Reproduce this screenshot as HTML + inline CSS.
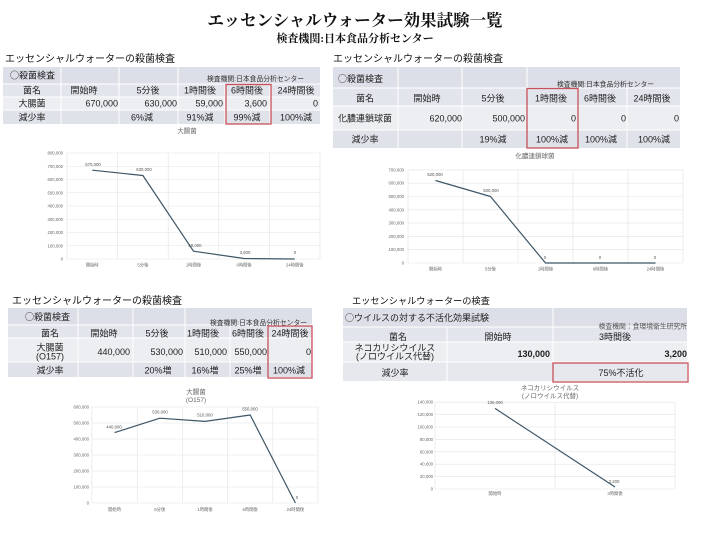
<!DOCTYPE html>
<html><head><meta charset="utf-8"><style>
html,body{margin:0;padding:0;background:#fff;}
svg{display:block;font-family:"Liberation Sans","Noto Sans CJK JP",sans-serif;}
.t{fill:#1e1e1e;font-size:9px;}
.c{text-anchor:middle}
.e{text-anchor:end}
.sm{font-size:6.8px;fill:#333}
.ax{font-size:4.3px;fill:#666}
.dl{font-size:4.3px;fill:#555;text-anchor:middle}
.ct{font-size:6.5px;fill:#666;text-anchor:middle}
.g{stroke:#e3e3e3;stroke-width:0.6;fill:none}
.ln{stroke:#3e5565;stroke-width:1.2;fill:none;stroke-linejoin:round}
.rb{fill:none;stroke:#c8505a;stroke-width:1.3}
.wl{stroke:#fff;stroke-width:1}
.cj{font-family:"Noto Sans CJK JP",sans-serif}
</style></head><body>
<svg width="710" height="543" viewBox="0 0 710 543" xmlns="http://www.w3.org/2000/svg">
<rect width="710" height="543" fill="#fff"/>
<!-- main titles -->
<text x="355" y="26" text-anchor="middle" font-family="'Liberation Serif','Noto Serif CJK JP',serif" font-weight="bold" font-size="16.5" fill="#111">エッセンシャルウォーター効果試験一覧</text>
<text x="355" y="42" text-anchor="middle" font-family="'Liberation Serif','Noto Serif CJK JP',serif" font-weight="bold" font-size="11" fill="#111">検査機関:日本食品分析センター</text>

<!-- section titles -->
<text x="5" y="62" font-size="10" fill="#111">エッセンシャルウォーターの殺菌検査</text>
<text x="333" y="62" font-size="10" fill="#111">エッセンシャルウォーターの殺菌検査</text>
<text x="12" y="304" font-size="10" fill="#111">エッセンシャルウォーターの殺菌検査</text>
<text x="352" y="304" font-size="9.2" fill="#111">エッセンシャルウォーターの検査</text>

<!-- ================= TOP-LEFT TABLE ================= -->
<rect x="3" y="67" width="317" height="17" fill="#dcdfe7"/>
<rect x="3" y="84" width="317" height="13" fill="#e3e5ec"/>
<rect x="3" y="97" width="317" height="13" fill="#eceef2"/>
<rect x="3" y="110" width="317" height="14" fill="#dfe2e9"/>
<line class="wl" x1="3" y1="84" x2="320" y2="84"/>
<line class="wl" x1="3" y1="97" x2="320" y2="97"/>
<line class="wl" x1="3" y1="110" x2="320" y2="110"/>
<line class="wl" x1="61" y1="67" x2="61" y2="124"/>
<line class="wl" x1="119" y1="67" x2="119" y2="124"/>
<line class="wl" x1="178" y1="67" x2="178" y2="124"/>
<line class="wl" x1="225" y1="84" x2="225" y2="124"/>
<line class="wl" x1="270" y1="84" x2="270" y2="124"/>
<text class="t" x="10" y="78.5" font-size="8.5"><tspan class="cj">○</tspan>殺菌検査</text>
<text class="t sm" x="207" y="81">検査機関:日本食品分析センター</text>
<text class="t c" x="32" y="93.5">菌名</text>
<text class="t c" x="84" y="93.5">開始時</text>
<text class="t c" x="148" y="93.5">5分後</text>
<text class="t c" x="200" y="93.5">1時間後</text>
<text class="t c" x="247" y="93.5">6時間後</text>
<text class="t c" x="296" y="93.5">24時間後</text>
<text class="t c" x="32" y="106.5">大腸菌</text>
<text class="t e" x="118" y="106.5" font-size="8.5">670,000</text>
<text class="t e" x="177" y="106.5" font-size="8.5">630,000</text>
<text class="t e" x="223" y="106.5" font-size="8.5">59,000</text>
<text class="t e" x="267" y="106.5" font-size="8.5">3,600</text>
<text class="t e" x="318" y="106.5" font-size="8.5">0</text>
<text class="t c" x="32" y="120.5">減少率</text>
<text class="t c" x="142" y="120.5">6%減</text>
<text class="t c" x="200" y="120.5">91%減</text>
<text class="t c" x="247" y="120.5">99%減</text>
<text class="t c" x="296" y="120.5">100%減</text>
<rect class="rb" x="226" y="84.5" width="45" height="39.5"/>

<!-- ================= TOP-RIGHT TABLE ================= -->
<rect x="333" y="67" width="347" height="21" fill="#dcdfe7"/>
<rect x="333" y="88" width="347" height="18" fill="#e3e5ec"/>
<rect x="333" y="106" width="347" height="24" fill="#eceef2"/>
<rect x="333" y="130" width="347" height="18" fill="#dfe2e9"/>
<line class="wl" x1="333" y1="88" x2="680" y2="88"/>
<line class="wl" x1="333" y1="106" x2="680" y2="106"/>
<line class="wl" x1="333" y1="130" x2="680" y2="130"/>
<line class="wl" x1="398" y1="67" x2="398" y2="148"/>
<line class="wl" x1="462" y1="67" x2="462" y2="148"/>
<line class="wl" x1="527" y1="67" x2="527" y2="148"/>
<line class="wl" x1="578" y1="88" x2="578" y2="148"/>
<line class="wl" x1="627" y1="88" x2="627" y2="148"/>
<text class="t" x="338" y="82" font-size="9"><tspan class="cj">○</tspan>殺菌検査</text>
<text class="t sm" x="557" y="86.5">検査機関:日本食品分析センター</text>
<text class="t c" x="365" y="101.5" font-size="9.5">菌名</text>
<text class="t c" x="427" y="101.5" font-size="9.5">開始時</text>
<text class="t c" x="493" y="101.5" font-size="9.5">5分後</text>
<text class="t c" x="551" y="101.5" font-size="9.5">1時間後</text>
<text class="t c" x="600" y="101.5" font-size="9.5">6時間後</text>
<text class="t c" x="652" y="101.5" font-size="9.5">24時間後</text>
<text class="t c" x="365" y="121.5" font-size="9.5">化膿連鎖球菌</text>
<text class="t e" x="462" y="121.5">620,000</text>
<text class="t e" x="525" y="121.5">500,000</text>
<text class="t e" x="576" y="121.5">0</text>
<text class="t e" x="626" y="121.5">0</text>
<text class="t e" x="679" y="121.5">0</text>
<text class="t c" x="365" y="142.5" font-size="9.5">減少率</text>
<text class="t c" x="493" y="142.5" font-size="9.5">19%減</text>
<text class="t c" x="552" y="142.5" font-size="9.5">100%減</text>
<text class="t c" x="601" y="142.5" font-size="9.5">100%減</text>
<text class="t c" x="654" y="142.5" font-size="9.5">100%減</text>
<rect class="rb" x="527" y="88.5" width="51" height="59.5"/>

<!-- ================= BOTTOM-LEFT TABLE ================= -->
<rect x="8" y="308" width="304" height="17" fill="#dcdfe7"/>
<rect x="8" y="325" width="304" height="13" fill="#e3e5ec"/>
<rect x="8" y="338" width="304" height="24" fill="#eceef2"/>
<rect x="8" y="362" width="304" height="15" fill="#dfe2e9"/>
<line class="wl" x1="8" y1="325" x2="312" y2="325"/>
<line class="wl" x1="8" y1="338" x2="312" y2="338"/>
<line class="wl" x1="8" y1="362" x2="312" y2="362"/>
<line class="wl" x1="78" y1="308" x2="78" y2="377"/>
<line class="wl" x1="133" y1="308" x2="133" y2="377"/>
<line class="wl" x1="185" y1="308" x2="185" y2="377"/>
<line class="wl" x1="230" y1="325" x2="230" y2="377"/>
<line class="wl" x1="268" y1="325" x2="268" y2="377"/>
<text class="t" x="25" y="320" font-size="8.5"><tspan class="cj">○</tspan>殺菌検査</text>
<text class="t sm" x="210" y="325">検査機関:日本食品分析センター</text>
<text class="t c" x="50" y="336.5">菌名</text>
<text class="t c" x="104" y="336.5">開始時</text>
<text class="t c" x="157" y="336.5">5分後</text>
<text class="t c" x="203" y="336.5">1時間後</text>
<text class="t c" x="248" y="336.5">6時間後</text>
<text class="t c" x="290" y="336.5">24時間後</text>
<text class="t c" x="50" y="350.5">大腸菌</text>
<text class="t c" x="50" y="359.5">(O157)</text>
<text class="t e" x="130" y="355" font-size="8.5">440,000</text>
<text class="t e" x="183" y="355" font-size="8.5">530,000</text>
<text class="t e" x="227" y="355" font-size="8.5">510,000</text>
<text class="t e" x="267" y="355" font-size="8.5">550,000</text>
<text class="t e" x="311" y="355" font-size="8.5">0</text>
<text class="t c" x="50" y="373.5">減少率</text>
<text class="t c" x="158" y="373.5">20%増</text>
<text class="t c" x="205" y="373.5">16%増</text>
<text class="t c" x="248" y="373.5">25%増</text>
<text class="t c" x="289" y="373.5">100%減</text>
<rect class="rb" x="268" y="326" width="44" height="52"/>

<!-- ================= BOTTOM-RIGHT TABLE ================= -->
<rect x="343" y="308" width="344" height="19" fill="#dcdfe7"/>
<rect x="343" y="327" width="344" height="15" fill="#e3e5ec"/>
<rect x="343" y="342" width="344" height="20" fill="#eceef2"/>
<rect x="343" y="362" width="344" height="19" fill="#e6e8ee"/>
<line class="wl" x1="343" y1="327" x2="687" y2="327"/>
<line class="wl" x1="343" y1="342" x2="687" y2="342"/>
<line class="wl" x1="343" y1="362" x2="687" y2="362"/>
<line class="wl" x1="447" y1="327" x2="447" y2="381"/>
<line class="wl" x1="553" y1="308" x2="553" y2="381"/>
<text class="t" x="345" y="321" font-size="7.5"><tspan class="cj">○</tspan>ウイルスの対する不活化効果試験</text>
<text class="e" x="687" y="328.5" font-size="6.8" fill="#555">検査機関：食環境衛生研究所</text>
<text class="t c" x="398" y="340">菌名</text>
<text class="t c" x="498" y="340">開始時</text>
<text class="t c" x="615" y="340">3時間後</text>
<text class="t c" x="395" y="351" font-size="8.5">ネコカリシウイルス</text>
<text class="t c" x="395" y="359.5" font-size="8.5">(ノロウイルス代替)</text>
<text class="t e" x="550" y="357" font-size="8.5" font-weight="bold">130,000</text>
<text class="t e" x="687" y="357" font-size="8.5" font-weight="bold">3,200</text>
<text class="t c" x="395" y="376">減少率</text>
<text class="t c" x="621" y="376">75%不活化</text>
<rect class="rb" x="553" y="363" width="135" height="19"/>

<!-- ================= TOP-LEFT CHART ================= -->
<text class="ct" x="187" y="133">大腸菌</text>
<g class="g">
<line x1="67" y1="259" x2="320" y2="259"/><line x1="67" y1="245.75" x2="320" y2="245.75"/>
<line x1="67" y1="232.5" x2="320" y2="232.5"/><line x1="67" y1="219.25" x2="320" y2="219.25"/>
<line x1="67" y1="206" x2="320" y2="206"/><line x1="67" y1="192.75" x2="320" y2="192.75"/>
<line x1="67" y1="179.5" x2="320" y2="179.5"/><line x1="67" y1="166.25" x2="320" y2="166.25"/>
<line x1="67" y1="153" x2="320" y2="153"/>
<line x1="67" y1="153" x2="67" y2="259"/><line x1="117.6" y1="153" x2="117.6" y2="259"/>
<line x1="168.2" y1="153" x2="168.2" y2="259"/><line x1="218.8" y1="153" x2="218.8" y2="259"/>
<line x1="269.4" y1="153" x2="269.4" y2="259"/><line x1="320" y1="153" x2="320" y2="259"/>
</g>
<g class="ax" text-anchor="end">
<text x="63" y="260.5">0</text><text x="63" y="247.3">100,000</text><text x="63" y="234">200,000</text>
<text x="63" y="220.8">300,000</text><text x="63" y="207.5">400,000</text><text x="63" y="194.3">500,000</text>
<text x="63" y="181">600,000</text><text x="63" y="167.8">700,000</text><text x="63" y="154.5">800,000</text>
</g>
<g class="ax" text-anchor="middle">
<text x="92.3" y="266.5">開始時</text><text x="142.9" y="266.5">5分後</text><text x="193.5" y="266.5">1時間後</text>
<text x="244.1" y="266.5">6時間後</text><text x="294.7" y="266.5">24時間後</text>
</g>
<polyline class="ln" points="92.3,170.2 142.9,175.5 193.5,251.2 244.1,258.5 294.7,259"/>
<text class="dl" x="93" y="166">670,000</text><text class="dl" x="144" y="171">630,000</text>
<text class="dl" x="195" y="247">59,000</text><text class="dl" x="245" y="254">3,600</text><text class="dl" x="295" y="254">0</text>

<!-- ================= TOP-RIGHT CHART ================= -->
<text class="ct" x="535" y="158">化膿連鎖球菌</text>
<g class="g">
<line x1="408" y1="263" x2="683" y2="263"/><line x1="408" y1="249.7" x2="683" y2="249.7"/>
<line x1="408" y1="236.4" x2="683" y2="236.4"/><line x1="408" y1="223.1" x2="683" y2="223.1"/>
<line x1="408" y1="209.8" x2="683" y2="209.8"/><line x1="408" y1="196.5" x2="683" y2="196.5"/>
<line x1="408" y1="183.2" x2="683" y2="183.2"/><line x1="408" y1="169.9" x2="683" y2="169.9"/>
<line x1="408" y1="169.9" x2="408" y2="263"/><line x1="463" y1="169.9" x2="463" y2="263"/>
<line x1="518" y1="169.9" x2="518" y2="263"/><line x1="573" y1="169.9" x2="573" y2="263"/>
<line x1="628" y1="169.9" x2="628" y2="263"/><line x1="683" y1="169.9" x2="683" y2="263"/>
</g>
<g class="ax" text-anchor="end">
<text x="404" y="264.5">0</text><text x="404" y="251.2">100,000</text><text x="404" y="237.9">200,000</text>
<text x="404" y="224.6">300,000</text><text x="404" y="211.3">400,000</text><text x="404" y="198">500,000</text>
<text x="404" y="184.7">600,000</text><text x="404" y="171.4">700,000</text>
</g>
<g class="ax" text-anchor="middle">
<text x="435.5" y="270.5">開始時</text><text x="490.5" y="270.5">5分後</text><text x="545.5" y="270.5">1時間後</text>
<text x="600.5" y="270.5">6時間後</text><text x="655.5" y="270.5">24時間後</text>
</g>
<polyline class="ln" points="435.5,180.5 490.5,196.5 545.5,263 600.5,263 655.5,263"/>
<text class="dl" x="435" y="176">620,000</text><text class="dl" x="491" y="192">500,000</text>
<text class="dl" x="545" y="259">0</text><text class="dl" x="600" y="259">0</text><text class="dl" x="655" y="259">0</text>

<!-- ================= BOTTOM-LEFT CHART ================= -->
<text class="ct" x="196" y="394">大腸菌</text>
<text class="ct" x="196" y="402" font-size="6">(O157)</text>
<g class="g">
<line x1="92" y1="503" x2="318" y2="503"/><line x1="92" y1="487" x2="318" y2="487"/>
<line x1="92" y1="471" x2="318" y2="471"/><line x1="92" y1="455" x2="318" y2="455"/>
<line x1="92" y1="439" x2="318" y2="439"/><line x1="92" y1="423" x2="318" y2="423"/>
<line x1="92" y1="407" x2="318" y2="407"/>
<line x1="92" y1="407" x2="92" y2="503"/><line x1="137.2" y1="407" x2="137.2" y2="503"/>
<line x1="182.4" y1="407" x2="182.4" y2="503"/><line x1="227.6" y1="407" x2="227.6" y2="503"/>
<line x1="272.8" y1="407" x2="272.8" y2="503"/><line x1="318" y1="407" x2="318" y2="503"/>
</g>
<g class="ax" text-anchor="end">
<text x="89" y="504.5">0</text><text x="89" y="488.5">100,000</text><text x="89" y="472.5">200,000</text>
<text x="89" y="456.5">300,000</text><text x="89" y="440.5">400,000</text><text x="89" y="424.5">500,000</text>
<text x="89" y="408.5">600,000</text>
</g>
<g class="ax" text-anchor="middle">
<text x="114.6" y="511">開始時</text><text x="159.8" y="511">5分後</text><text x="205" y="511">1時間後</text>
<text x="250.2" y="511">6時間後</text><text x="295.4" y="511">24時間後</text>
</g>
<polyline class="ln" points="114.6,432.6 159.8,418.2 205,421.4 250.2,415 295.4,503"/>
<text class="dl" x="114" y="428.5">440,000</text><text class="dl" x="160" y="413.5">530,000</text>
<text class="dl" x="205" y="416.5">510,000</text><text class="dl" x="250" y="410.5">550,000</text>
<text class="dl" x="297" y="499">0</text>

<!-- ================= BOTTOM-RIGHT CHART ================= -->
<text class="ct" x="550" y="390" font-size="6.2">ネコカリシウイルス</text>
<text class="ct" x="550" y="398" font-size="6.2">(ノロウイルス代替)</text>
<g class="g">
<line x1="435" y1="489" x2="675" y2="489"/><line x1="435" y1="476.6" x2="675" y2="476.6"/>
<line x1="435" y1="464.2" x2="675" y2="464.2"/><line x1="435" y1="451.8" x2="675" y2="451.8"/>
<line x1="435" y1="439.4" x2="675" y2="439.4"/><line x1="435" y1="427" x2="675" y2="427"/>
<line x1="435" y1="414.6" x2="675" y2="414.6"/><line x1="435" y1="402.2" x2="675" y2="402.2"/>
<line x1="435" y1="402.2" x2="435" y2="489"/><line x1="555" y1="402.2" x2="555" y2="489"/>
<line x1="675" y1="402.2" x2="675" y2="489"/>
</g>
<g class="ax" text-anchor="end">
<text x="433" y="490.5">0</text><text x="433" y="478">20,000</text><text x="433" y="465.7">40,000</text>
<text x="433" y="453.3">60,000</text><text x="433" y="440.9">80,000</text><text x="433" y="428.5">100,000</text>
<text x="433" y="416.1">120,000</text><text x="433" y="403.7">140,000</text>
</g>
<g class="ax" text-anchor="middle">
<text x="495" y="495">開始時</text><text x="615" y="495">3時間後</text>
</g>
<polyline class="ln" points="495,408.4 615,487"/>
<text class="dl" x="495" y="404">130,000</text><text class="dl" x="614" y="483">3,200</text>
</svg>
</body></html>
